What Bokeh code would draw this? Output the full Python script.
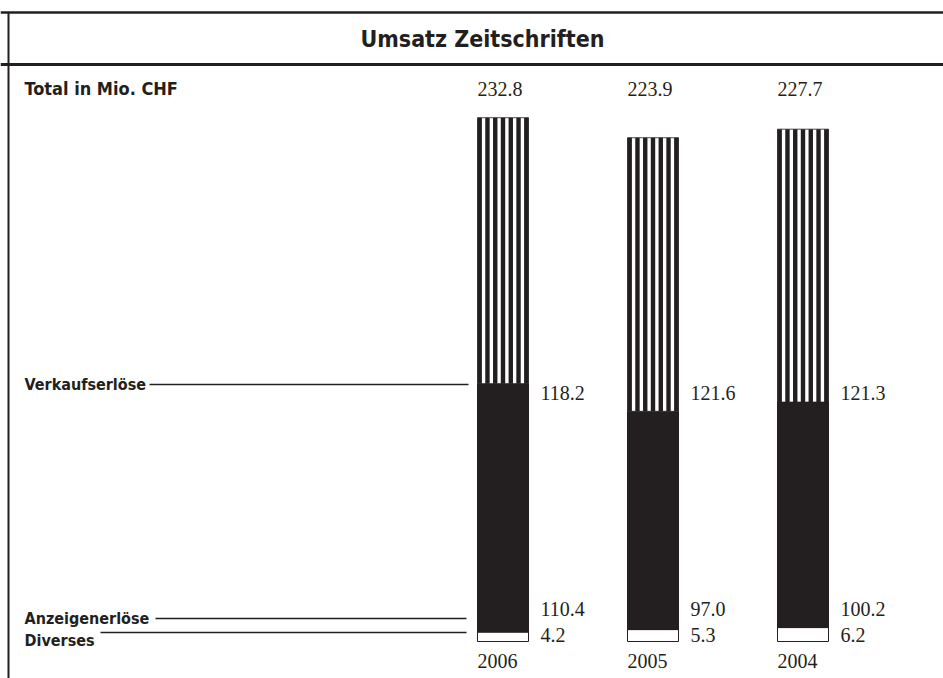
from bokeh.plotting import figure
from bokeh.models import Range1d, ColumnDataSource
from bokeh.core.properties import value
from bokeh.embed import file_html
from bokeh.resources import INLINE

# ---------------- data ----------------
years = ["2006", "2005", "2004"]
totals = [232.8, 223.9, 227.7]
verkauf = [118.2, 121.6, 121.3]
anzeigen = [110.4, 97.0, 100.2]
diverses = [4.2, 5.3, 6.2]
row_labels = ["Verkaufserlöse", "Anzeigenerlöse", "Diverses"]
title_text = "Umsatz Zeitschriften"
unit_label = "Total in Mio. CHF"

# ---------------- layout ----------------
W, H = 943, 678
PX_PER_UNIT = 2.25
BASE_PX = 641           # baseline of bars, pixels from top
BAR_X0, BAR_STEP, BAR_W = 502.5, 150, 51
N_STRIPES, STRIPE_W = 7, 4.4
DARK = "#231f20"
HEAD_FONT = value("'DejaVu Sans Condensed', 'DejaVu Sans', sans-serif")
NUM_FONT = value("'Liberation Serif', serif")

y0 = -(H - BASE_PX) / PX_PER_UNIT
y1 = y0 + H / PX_PER_UNIT

p = figure(width=W, height=H, x_range=Range1d(0, W), y_range=Range1d(y0, y1),
           output_backend="svg", toolbar_location=None, min_border=0,
           x_axis_type=None, y_axis_type=None)
p.grid.visible = False
p.outline_line_color = None
p.background_fill_color = "white"
p.border_fill_color = "white"
p.extra_y_ranges = {"px": Range1d(H, 0)}

xs = [BAR_X0 + i * BAR_STEP for i in range(len(years))]
b1 = list(diverses)
b2 = [d + a for d, a in zip(diverses, anzeigen)]
b3 = [s + v for s, v in zip(b2, verkauf)]

src = ColumnDataSource(dict(x=xs, d=b1, a=b2, v=b3, zero=[0] * len(xs)))

# stacked bars
p.vbar(x="x", width=BAR_W, bottom="zero", top="d", source=src,
       fill_color="white", line_color=DARK, line_width=1)
p.vbar(x="x", width=BAR_W, bottom="d", top="a", source=src,
       fill_color=DARK, line_color=DARK, line_width=1)
p.vbar(x="x", width=BAR_W, bottom="a", top="v", source=src,
       fill_color="white", line_color=DARK, line_width=0.8)

# vertical stripes of the Verkaufserlöse segment
gap = (BAR_W - N_STRIPES * STRIPE_W) / (N_STRIPES - 1)
sx, sb, st = [], [], []
for x, a, v in zip(xs, b2, b3):
    left = x - BAR_W / 2
    for k in range(N_STRIPES):
        sx.append(left + STRIPE_W / 2 + k * (STRIPE_W + gap))
        sb.append(a)
        st.append(v)
p.vbar(x=sx, width=STRIPE_W, bottom=sb, top=st, fill_color=DARK, line_color=None)

# frame lines
p.segment(x0=[0, 0, 8], y0=[12, 64, 12], x1=[W, W, 8], y1=[12, 64, H],
          line_color=DARK, line_width=[2.5, 3, 2], y_range_name="px")

# title
p.text(x=[482], y=[38], text=[title_text], text_font=HEAD_FONT,
       text_font_size="23px", text_font_style="bold", text_color=DARK,
       text_align="center", text_baseline="middle", y_range_name="px")

# unit label
p.text(x=[24], y=[88], text=[unit_label], text_font=HEAD_FONT,
       text_font_size="18px", text_font_style="bold", text_color=DARK,
       text_align="left", text_baseline="middle", y_range_name="px")

# row labels with leader lines
p.text(x=[24] * 3, y=[384, 618, 640], text=row_labels, text_font=HEAD_FONT,
       text_font_size="16px", text_font_style="bold", text_color=DARK,
       text_align="left", text_baseline="alphabetic", y_range_name="px")
p.segment(x0=[149, 155, 100], y0=[384, 618, 632], x1=[468, 466, 466], y1=[384, 618, 632],
          line_color=DARK, line_width=1.5, y_range_name="px")

# values
fmt = lambda v: f"{v:.1f}"
left = [x - BAR_W / 2 for x in xs]
right = [x + BAR_W / 2 + 12 for x in xs]
num = dict(text_font=NUM_FONT, text_font_size="20px", text_color=DARK,
           text_baseline="middle", y_range_name="px")
p.text(x=left, y=[88] * 3, text=[fmt(t) for t in totals], **num)
p.text(x=right, y=[392] * 3, text=[fmt(v) for v in verkauf], **num)
p.text(x=right, y=[608] * 3, text=[fmt(v) for v in anzeigen], **num)
p.text(x=right, y=[634] * 3, text=[fmt(v) for v in diverses], **num)
p.text(x=left, y=[660] * 3, text=years, **num)

open("out.html", "w").write(file_html(p, INLINE))
